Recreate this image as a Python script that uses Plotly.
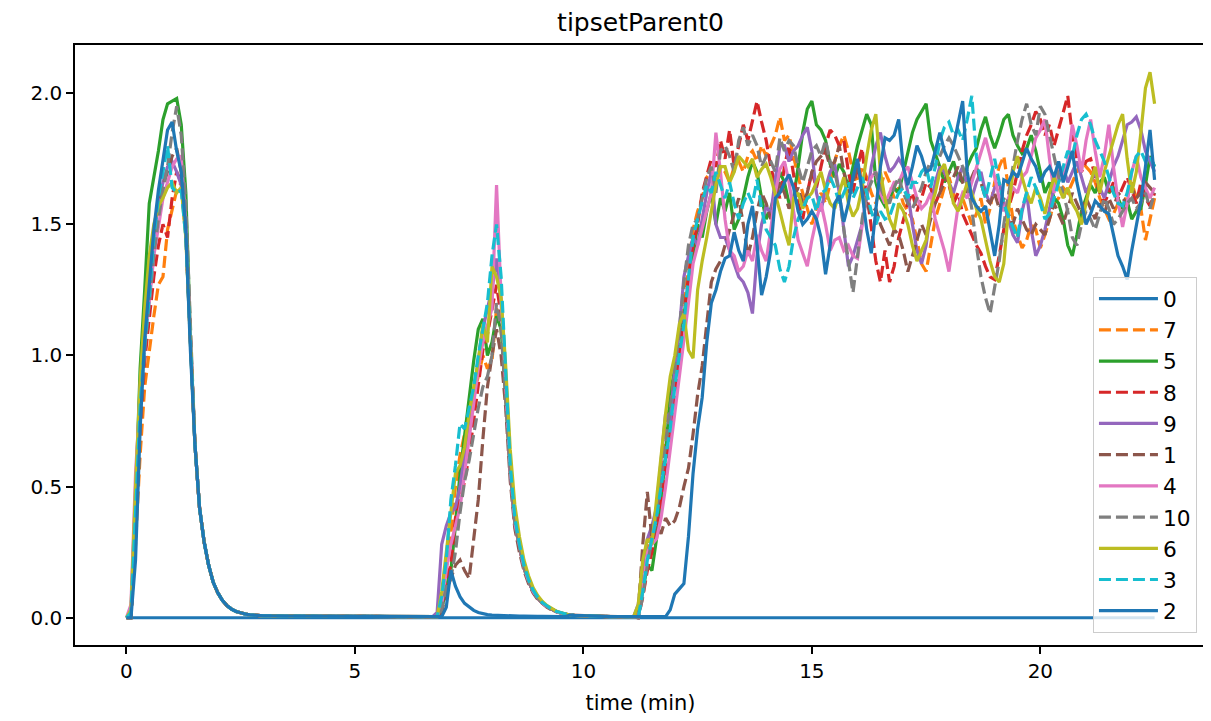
import plotly.graph_objects as go

# ---------------- data ----------------
# shared time axis, one sample every 0.1 min from 0 to 22.5 min
time_min = [round(i * 0.1, 1) for i in range(226)]

series_names = ["0", "7", "5", "8", "9", "1", "4", "10", "6", "3", "2"]
series_colors = ["#1f77b4", "#ff7f0e", "#2ca02c", "#d62728", "#9467bd", "#8c564b",
                 "#e377c2", "#7f7f7f", "#bcbd22", "#17becf", "#1f77b4"]
series_dashed = [False, True, False, True, False, True, False, True, False, True, False]

# shared pieces where all curves overlap
decay_1 = [0.66, 0.42, 0.29, 0.20, 0.135, 0.095, 0.066, 0.046, 0.033, 0.024,
           0.018, 0.014, 0.011, 0.009, 0.008, 0.007]                       # t 1.5 .. 3.0
quiet_1 = [0.007, 0.006, 0.006, 0.006, 0.006, 0.006, 0.006, 0.005, 0.005, 0.005,
           0.005, 0.005, 0.005, 0.005, 0.005, 0.005, 0.005, 0.005, 0.004, 0.004,
           0.004, 0.004, 0.004, 0.004, 0.004, 0.004, 0.004, 0.004, 0.004, 0.004,
           0.004, 0.004, 0.004, 0.004, 0.004, 0.004, 0.004]                # t 3.1 .. 6.7
decay_2 = [0.56, 0.36, 0.27, 0.19, 0.14, 0.10, 0.075, 0.056, 0.043, 0.032,
           0.024, 0.018, 0.013]                                            # t 8.4 .. 9.6
quiet_2 = [0.010, 0.009, 0.008, 0.007, 0.006, 0.006, 0.005, 0.005, 0.005, 0.004,
           0.004, 0.004, 0.004, 0.004, 0.004]                              # t 9.7 .. 11.1

# series "0" stays at zero the whole run
values_0 = [0, 0, 0, 0, 0, 0, 0, 0, 0, 0, 0, 0, 0, 0, 0, 0, 0, 0, 0, 0,
            0, 0, 0, 0, 0, 0, 0, 0, 0, 0, 0, 0, 0, 0, 0, 0, 0, 0, 0, 0,
            0, 0, 0, 0, 0, 0, 0, 0, 0, 0, 0, 0, 0, 0, 0, 0, 0, 0, 0, 0,
            0, 0, 0, 0, 0, 0, 0, 0, 0, 0, 0, 0, 0, 0, 0, 0, 0, 0, 0, 0,
            0, 0, 0, 0, 0, 0, 0, 0, 0, 0, 0, 0, 0, 0, 0, 0, 0, 0, 0, 0,
            0, 0, 0, 0, 0, 0, 0, 0, 0, 0, 0, 0, 0, 0, 0, 0, 0, 0, 0, 0,
            0, 0, 0, 0, 0, 0, 0, 0, 0, 0, 0, 0, 0, 0, 0, 0, 0, 0, 0, 0,
            0, 0, 0, 0, 0, 0, 0, 0, 0, 0, 0, 0, 0, 0, 0, 0, 0, 0, 0, 0,
            0, 0, 0, 0, 0, 0, 0, 0, 0, 0, 0, 0, 0, 0, 0, 0, 0, 0, 0, 0,
            0, 0, 0, 0, 0, 0, 0, 0, 0, 0, 0, 0, 0, 0, 0, 0, 0, 0, 0, 0,
            0, 0, 0, 0, 0, 0, 0, 0, 0, 0, 0, 0, 0, 0, 0, 0, 0, 0, 0, 0,
            0, 0, 0, 0, 0, 0]

# --- first burst, t 0.0 .. 1.4
rise1_7 = [0, 0.0, 0.28, 0.62, 0.88, 1.02, 1.15, 1.27, 1.30, 1.48, 1.56, 1.63, 1.66, 1.46, 1.06]
rise1_5 = [0, 0.0, 0.45, 0.95, 1.25, 1.58, 1.68, 1.78, 1.90, 1.96, 1.97, 1.98, 1.88, 1.62, 1.08]
rise1_8 = [0, 0.0, 0.35, 0.72, 0.98, 1.15, 1.30, 1.42, 1.50, 1.45, 1.60, 1.70, 1.66, 1.46, 1.06]
rise1_9 = [0, 0.02, 0.48, 0.88, 1.12, 1.30, 1.45, 1.58, 1.66, 1.72, 1.74, 1.70, 1.65, 1.47, 1.05]
rise1_1 = [0, 0.0, 0.40, 0.80, 1.05, 1.22, 1.40, 1.55, 1.65, 1.70, 1.76, 1.79, 1.70, 1.48, 1.06]
rise1_4 = [0, 0.05, 0.55, 0.85, 1.05, 1.20, 1.38, 1.50, 1.60, 1.66, 1.72, 1.75, 1.76, 1.50, 1.08]
rise1_10 = [0, 0.0, 0.35, 0.75, 1.02, 1.20, 1.38, 1.52, 1.63, 1.72, 1.85, 1.95, 1.84, 1.58, 1.10]
rise1_6 = [0, 0.03, 0.50, 0.90, 1.18, 1.38, 1.50, 1.57, 1.60, 1.64, 1.66, 1.62, 1.64, 1.45, 1.05]
rise1_3 = [0, 0.02, 0.40, 0.80, 1.05, 1.22, 1.45, 1.60, 1.70, 1.80, 1.64, 1.62, 1.63, 1.45, 1.05]
rise1_2 = [0, 0.0, 0.22, 0.72, 1.06, 1.27, 1.48, 1.63, 1.75, 1.86, 1.89, 1.78, 1.70, 1.48, 1.02]

# --- second burst, t 6.8 .. 8.3 (then decay)
peak2_7 = [0.004, 0.05, 0.20, 0.32, 0.50, 0.62, 0.70, 0.75, 0.85, 0.92, 1.00, 0.95, 0.98, 1.18, 1.10, 0.85]
peak2_5 = [0.004, 0.03, 0.12, 0.18, 0.35, 0.55, 0.70, 0.85, 0.98, 1.10, 1.14, 1.00, 1.05, 1.15, 1.10, 0.86]
peak2_8 = [0.004, 0.04, 0.15, 0.20, 0.38, 0.45, 0.52, 0.62, 0.75, 0.90, 1.02, 1.08, 1.18, 1.27, 1.15, 0.88]
peak2_9 = [0.02, 0.28, 0.35, 0.40, 0.42, 0.50, 0.62, 0.74, 0.86, 0.98, 1.10, 1.18, 1.25, 1.37, 1.20, 0.90]
peak2_1 = [0.004, 0.02, 0.10, 0.15, 0.20, 0.22, 0.18, 0.15, 0.30, 0.45, 0.68, 0.88, 1.00, 1.10, 1.00, 0.80,
           0.52, 0.34, 0.25, 0.18, 0.13, 0.095, 0.07, 0.053, 0.04, 0.03, 0.023, 0.017, 0.012]
peak2_4 = [0.004, 0.05, 0.18, 0.28, 0.35, 0.42, 0.55, 0.68, 0.82, 0.95, 1.05, 1.12, 1.18, 1.65, 1.22, 0.88]
peak2_10 = [0.004, 0.03, 0.12, 0.15, 0.25, 0.40, 0.52, 0.60, 0.70, 0.80, 0.88, 0.92, 1.00, 1.20, 1.10, 0.85]
peak2_6 = [0.004, 0.10, 0.25, 0.38, 0.55, 0.58, 0.65, 0.78, 0.88, 0.98, 1.12, 1.05, 1.34, 1.30, 1.22, 0.96,
           0.64, 0.43, 0.31, 0.22, 0.16, 0.115, 0.085, 0.063, 0.047, 0.035, 0.026, 0.020, 0.015]
peak2_3 = [0.004, 0.08, 0.22, 0.45, 0.58, 0.74, 0.72, 0.80, 0.88, 1.00, 1.10, 1.20, 1.38, 1.50, 1.30, 0.92,
           0.58, 0.38, 0.28, 0.20, 0.145, 0.105, 0.078, 0.058, 0.044, 0.033, 0.025, 0.019, 0.014]
peak2_2 = [0.004, 0.004, 0.04, 0.18, 0.12, 0.08, 0.055, 0.04, 0.028, 0.02, 0.015, 0.012, 0.010, 0.009, 0.008,
           0.007, 0.007, 0.006, 0.006, 0.006, 0.005, 0.005, 0.005, 0.005, 0.004, 0.004, 0.004, 0.004, 0.004]

# --- third rise, t 11.2 .. 13.0
rise3_7 = [0.02, 0.15, 0.25, 0.32, 0.40, 0.55, 0.70, 0.82, 0.90, 1.05, 1.20, 1.35, 1.48, 1.55, 1.60, 1.68, 1.70, 1.66, 1.72]
rise3_5 = [0.0, 0.10, 0.20, 0.18, 0.30, 0.45, 0.62, 0.85, 0.95, 1.10, 1.15, 1.28, 1.38, 1.50, 1.45, 1.55, 1.62, 1.50, 1.60]
rise3_8 = [0.0, 0.08, 0.18, 0.25, 0.35, 0.45, 0.58, 0.70, 0.85, 1.00, 1.15, 1.30, 1.42, 1.50, 1.62, 1.68, 1.75, 1.72, 1.82]
rise3_9 = [0.05, 0.20, 0.30, 0.35, 0.42, 0.60, 0.78, 0.75, 0.95, 1.10, 1.30, 1.38, 1.45, 1.42, 1.52, 1.62, 1.70, 1.50, 1.45]
rise3_1 = [0.02, 0.28, 0.48, 0.30, 0.35, 0.32, 0.38, 0.35, 0.37, 0.42, 0.50, 0.57, 0.70, 0.85, 0.96, 1.12, 1.28, 1.33, 1.36]
rise3_4 = [0.0, 0.10, 0.25, 0.28, 0.30, 0.38, 0.50, 0.65, 0.78, 0.92, 1.05, 1.20, 1.35, 1.42, 1.48, 1.55, 1.62, 1.85, 1.70]
rise3_10 = [0.0, 0.08, 0.20, 0.30, 0.40, 0.52, 0.65, 0.80, 0.95, 1.10, 1.28, 1.42, 1.50, 1.52, 1.60, 1.68, 1.72, 1.62, 1.78]
rise3_6 = [0.05, 0.22, 0.30, 0.28, 0.45, 0.62, 0.78, 0.92, 1.00, 1.12, 1.16, 1.02, 0.99, 1.25, 1.36, 1.45, 1.55, 1.65, 1.72]
rise3_3 = [0.0, 0.10, 0.22, 0.30, 0.38, 0.50, 0.62, 0.72, 0.88, 1.00, 1.12, 1.30, 1.45, 1.52, 1.58, 1.65, 1.62, 1.70, 1.65]
rise3_2 = [0.004, 0.004, 0.004, 0.004, 0.004, 0.004, 0.004, 0.03, 0.09, 0.11, 0.13, 0.31, 0.55, 0.72, 0.84, 1.05, 1.20, 1.25, 1.32]

# --- noisy plateau, t 13.1 .. 22.5
plateau_7 = [1.70, 1.66, 1.72, 1.74, 1.70, 1.76, 1.78, 1.74, 1.80, 1.76,
             1.80, 1.84, 1.91, 1.82, 1.84, 1.76, 1.68, 1.62, 1.56, 1.50,
             1.56, 1.62, 1.58, 1.66, 1.74, 1.80, 1.84, 1.78, 1.70, 1.66,
             1.72, 1.68, 1.62, 1.58, 1.64, 1.70, 1.66, 1.60, 1.64, 1.58,
             1.55, 1.52, 1.44, 1.35, 1.32, 1.42, 1.52, 1.58, 1.64, 1.68,
             1.62, 1.56, 1.60, 1.55, 1.50, 1.54, 1.60, 1.50, 1.56, 1.66,
             1.72, 1.76, 1.64, 1.52, 1.46, 1.41, 1.44, 1.50, 1.48, 1.41,
             1.46, 1.52, 1.58, 1.60, 1.64, 1.62, 1.66, 1.70, 1.74, 1.72,
             1.70, 1.66, 1.60, 1.56, 1.52, 1.54, 1.58, 1.56, 1.62, 1.66,
             1.60, 1.56, 1.44, 1.52, 1.60]
plateau_5 = [1.55, 1.62, 1.48, 1.52, 1.60, 1.68, 1.74, 1.70, 1.60, 1.52,
             1.56, 1.62, 1.70, 1.66, 1.58, 1.60, 1.72, 1.85, 1.94, 1.97,
             1.88, 1.86, 1.82, 1.73, 1.68, 1.73, 1.70, 1.64, 1.72, 1.80,
             1.86, 1.92, 1.88, 1.66, 1.60, 1.57, 1.60, 1.64, 1.62, 1.70,
             1.78, 1.85, 1.90, 1.93, 1.96, 1.82, 1.77, 1.72, 1.66, 1.70,
             1.74, 1.68, 1.66, 1.72, 1.76, 1.79, 1.86, 1.91, 1.84, 1.79,
             1.84, 1.90, 1.92, 1.84, 1.80, 1.77, 1.79, 1.84, 1.78, 1.70,
             1.62, 1.66, 1.60, 1.58, 1.52, 1.42, 1.38, 1.46, 1.55, 1.60,
             1.65, 1.62, 1.66, 1.68, 1.62, 1.64, 1.60, 1.56, 1.59, 1.52,
             1.55, 1.56, 1.65, 1.76, 1.72]
plateau_8 = [1.75, 1.86, 1.72, 1.80, 1.88, 1.82, 1.90, 1.97, 1.89, 1.82,
             1.72, 1.65, 1.60, 1.72, 1.80, 1.68, 1.58, 1.52, 1.62, 1.70,
             1.64, 1.72, 1.80, 1.86, 1.84, 1.80, 1.82, 1.70, 1.62, 1.72,
             1.79, 1.62, 1.48, 1.36, 1.28, 1.40, 1.28, 1.34, 1.45, 1.52,
             1.58, 1.62, 1.55, 1.60, 1.66, 1.64, 1.58, 1.62, 1.70, 1.65,
             1.58, 1.62, 1.54, 1.50, 1.46, 1.42, 1.39, 1.34, 1.30, 1.29,
             1.38, 1.48, 1.56, 1.62, 1.70, 1.78, 1.84, 1.88, 1.93, 1.90,
             1.84, 1.88, 1.80, 1.86, 1.92, 1.99, 1.84, 1.75, 1.70, 1.74,
             1.75, 1.69, 1.62, 1.58, 1.62, 1.66, 1.60, 1.64, 1.68, 1.63,
             1.58, 1.66, 1.60, 1.57, 1.62]
plateau_9 = [1.45, 1.40, 1.35, 1.30, 1.28, 1.24, 1.16, 1.38, 1.50, 1.57,
             1.54, 1.66, 1.80, 1.80, 1.74, 1.78, 1.80, 1.84, 1.87, 1.78,
             1.62, 1.55, 1.64, 1.70, 1.73, 1.62, 1.48, 1.34, 1.38, 1.44,
             1.50, 1.60, 1.72, 1.80, 1.85, 1.76, 1.70, 1.72, 1.75, 1.72,
             1.62, 1.50, 1.40, 1.35, 1.42, 1.55, 1.66, 1.72, 1.70, 1.66,
             1.62, 1.68, 1.72, 1.65, 1.60, 1.66, 1.70, 1.62, 1.58, 1.64,
             1.66, 1.58, 1.52, 1.46, 1.43, 1.55, 1.62, 1.48, 1.38, 1.42,
             1.48, 1.56, 1.64, 1.68, 1.72, 1.66, 1.70, 1.74, 1.68, 1.62,
             1.66, 1.70, 1.64, 1.60, 1.66, 1.72, 1.76, 1.82, 1.88, 1.89,
             1.91, 1.86, 1.78, 1.74, 1.70]
plateau_1 = [1.42, 1.48, 1.55, 1.60, 1.50, 1.38, 1.45, 1.55, 1.62, 1.58,
             1.52, 1.60, 1.66, 1.62, 1.56, 1.60, 1.64, 1.58, 1.62, 1.70,
             1.74, 1.76, 1.78, 1.72, 1.74, 1.80, 1.70, 1.62, 1.66, 1.72,
             1.66, 1.58, 1.54, 1.56, 1.50, 1.46, 1.42, 1.48, 1.46, 1.40,
             1.32, 1.38, 1.44, 1.50, 1.46, 1.52, 1.58, 1.62, 1.66, 1.70,
             1.68, 1.72, 1.66, 1.62, 1.68, 1.72, 1.66, 1.60, 1.58, 1.62,
             1.56, 1.60, 1.54, 1.50, 1.56, 1.52, 1.48, 1.46, 1.50, 1.48,
             1.46, 1.52, 1.58, 1.54, 1.50, 1.56, 1.62, 1.58, 1.54, 1.60,
             1.56, 1.52, 1.58, 1.54, 1.60, 1.56, 1.62, 1.60, 1.58, 1.64,
             1.60, 1.62, 1.66, 1.64, 1.62]
plateau_4 = [1.52, 1.40, 1.38, 1.32, 1.34, 1.40, 1.36, 1.46, 1.40, 1.36,
             1.48, 1.62, 1.71, 1.74, 1.66, 1.55, 1.44, 1.39, 1.34, 1.44,
             1.52, 1.58, 1.50, 1.40, 1.44, 1.45, 1.40, 1.42, 1.38, 1.37,
             1.50, 1.62, 1.68, 1.70, 1.62, 1.58, 1.62, 1.66, 1.66, 1.70,
             1.72, 1.66, 1.60, 1.56, 1.58, 1.62, 1.52, 1.46, 1.40, 1.32,
             1.45, 1.57, 1.62, 1.60, 1.66, 1.72, 1.78, 1.83, 1.76, 1.68,
             1.60, 1.55, 1.60, 1.64, 1.62, 1.68, 1.70, 1.76, 1.83, 1.86,
             1.90, 1.75, 1.62, 1.72, 1.68, 1.74, 1.88, 1.80, 1.70, 1.82,
             1.90, 1.78, 1.68, 1.76, 1.88, 1.72, 1.59, 1.49, 1.58, 1.70,
             1.76, 1.68, 1.64, 1.60, 1.64]
plateau_10 = [1.80, 1.76, 1.70, 1.82, 1.87, 1.80, 1.84, 1.80, 1.72, 1.76,
              1.74, 1.70, 1.83, 1.78, 1.82, 1.80, 1.72, 1.66, 1.72, 1.78,
              1.80, 1.76, 1.82, 1.74, 1.70, 1.62, 1.48, 1.36, 1.24, 1.38,
              1.52, 1.62, 1.66, 1.70, 1.64, 1.60, 1.58, 1.64, 1.68, 1.62,
              1.58, 1.56, 1.60, 1.64, 1.70, 1.74, 1.72, 1.76, 1.80, 1.83,
              1.80, 1.76, 1.72, 1.66, 1.56, 1.42, 1.30, 1.22, 1.16, 1.26,
              1.36, 1.50, 1.62, 1.72, 1.82, 1.90, 1.96, 1.88, 1.84, 1.95,
              1.92, 1.84, 1.76, 1.68, 1.62, 1.55, 1.45, 1.42, 1.50, 1.55,
              1.52, 1.48, 1.54, 1.60, 1.56, 1.50, 1.52, 1.55, 1.58, 1.60,
              1.56, 1.58, 1.62, 1.56, 1.62]
plateau_6 = [1.72, 1.66, 1.70, 1.76, 1.74, 1.72, 1.75, 1.68, 1.71, 1.73,
             1.68, 1.62, 1.55, 1.48, 1.42, 1.60, 1.62, 1.56, 1.60, 1.62,
             1.66, 1.70, 1.63, 1.58, 1.56, 1.62, 1.68, 1.58, 1.53, 1.56,
             1.64, 1.76, 1.86, 1.92, 1.70, 1.60, 1.52, 1.48, 1.58, 1.55,
             1.50, 1.42, 1.36, 1.40, 1.44, 1.56, 1.62, 1.70, 1.73, 1.66,
             1.58, 1.55, 1.60, 1.66, 1.62, 1.56, 1.52, 1.44, 1.36, 1.30,
             1.28, 1.35, 1.55, 1.70, 1.76, 1.68, 1.62, 1.58, 1.64, 1.60,
             1.54, 1.62, 1.68, 1.64, 1.60, 1.64, 1.58, 1.55, 1.50, 1.58,
             1.66, 1.72, 1.62, 1.70, 1.76, 1.82, 1.88, 1.92, 1.75, 1.62,
             1.70, 1.85, 2.02, 2.08, 1.96]
plateau_3 = [1.60, 1.66, 1.58, 1.52, 1.58, 1.62, 1.58, 1.67, 1.56, 1.48,
             1.45, 1.42, 1.33, 1.28, 1.34, 1.45, 1.52, 1.56, 1.60, 1.61,
             1.55, 1.62, 1.63, 1.68, 1.64, 1.58, 1.62, 1.66, 1.60, 1.64,
             1.68, 1.62, 1.55, 1.50, 1.55, 1.52, 1.53, 1.58, 1.62, 1.64,
             1.60, 1.66, 1.66, 1.70, 1.72, 1.64, 1.72, 1.82, 1.87, 1.89,
             1.84, 1.86, 1.82, 1.90, 1.99, 1.76, 1.66, 1.60, 1.68, 1.75,
             1.66, 1.58, 1.53, 1.49, 1.45, 1.56, 1.62, 1.68, 1.64, 1.58,
             1.52, 1.54, 1.60, 1.66, 1.72, 1.78, 1.76, 1.84, 1.90, 1.92,
             1.88, 1.82, 1.78, 1.74, 1.68, 1.62, 1.58, 1.57, 1.62, 1.70,
             1.76, 1.78, 1.74, 1.76, 1.72]
plateau_2 = [1.37, 1.38, 1.47, 1.40, 1.36, 1.50, 1.57, 1.42, 1.23, 1.30,
             1.40, 1.60, 1.62, 1.66, 1.69, 1.64, 1.55, 1.50, 1.52, 1.55,
             1.52, 1.45, 1.31, 1.42, 1.58, 1.61, 1.51, 1.58, 1.68, 1.75,
             1.62, 1.48, 1.39, 1.55, 1.72, 1.83, 1.82, 1.84, 1.90, 1.72,
             1.65, 1.72, 1.80, 1.76, 1.70, 1.71, 1.78, 1.85, 1.78, 1.74,
             1.80, 1.88, 1.97, 1.70, 1.60, 1.57, 1.55, 1.57, 1.48, 1.38,
             1.50, 1.67, 1.66, 1.70, 1.68, 1.74, 1.79, 1.75, 1.72, 1.66,
             1.70, 1.72, 1.68, 1.74, 1.66, 1.72, 1.78, 1.66, 1.58, 1.50,
             1.54, 1.59, 1.57, 1.55, 1.54, 1.46, 1.38, 1.34, 1.29, 1.40,
             1.50, 1.59, 1.72, 1.86, 1.67]

values_7 = rise1_7 + decay_1 + quiet_1 + peak2_7 + decay_2 + quiet_2 + rise3_7 + plateau_7
values_5 = rise1_5 + decay_1 + quiet_1 + peak2_5 + decay_2 + quiet_2 + rise3_5 + plateau_5
values_8 = rise1_8 + decay_1 + quiet_1 + peak2_8 + decay_2 + quiet_2 + rise3_8 + plateau_8
values_9 = rise1_9 + decay_1 + quiet_1 + peak2_9 + decay_2 + quiet_2 + rise3_9 + plateau_9
values_1 = rise1_1 + decay_1 + quiet_1 + peak2_1 + quiet_2 + rise3_1 + plateau_1
values_4 = rise1_4 + decay_1 + quiet_1 + peak2_4 + decay_2 + quiet_2 + rise3_4 + plateau_4
values_10 = rise1_10 + decay_1 + quiet_1 + peak2_10 + decay_2 + quiet_2 + rise3_10 + plateau_10
values_6 = rise1_6 + decay_1 + quiet_1 + peak2_6 + quiet_2 + rise3_6 + plateau_6
values_3 = rise1_3 + decay_1 + quiet_1 + peak2_3 + quiet_2 + rise3_3 + plateau_3
values_2 = rise1_2 + decay_1 + quiet_1 + peak2_2 + quiet_2 + rise3_2 + plateau_2

series_values = [values_0, values_7, values_5, values_8, values_9, values_1,
                 values_4, values_10, values_6, values_3, values_2]

x_ticks = [0, 5, 10, 15, 20]
y_ticks = [0.0, 0.5, 1.0, 1.5, 2.0]

# ---------------- figure ----------------
# the page body keeps its default 8px margin, so the figure is made 8px smaller
FONT = "DejaVu Sans"
fig = go.Figure()
for name, vals, col, dashed in zip(series_names, series_values, series_colors, series_dashed):
    fig.add_trace(go.Scatter(
        x=time_min, y=vals, name=name, mode="lines",
        line=dict(color=col, width=3.2, dash="12px,5px" if dashed else "solid"),
    ))

axis_common = dict(
    showline=True, linecolor="black", linewidth=1.5, mirror=True,
    ticks="outside", ticklen=7, tickwidth=1.5, tickcolor="black",
    showgrid=False, zeroline=False,
    tickfont=dict(family=FONT, size=20, color="black"),
)

fig.update_layout(
    width=1203, height=713, autosize=False,
    margin=dict(l=67, r=3, t=37, b=76),
    paper_bgcolor="white", plot_bgcolor="white",
    font=dict(family=FONT, color="black"),
    title=dict(text="tipsetParent0", x=0.5, xref="paper", xanchor="center",
               y=0.980, yref="container", yanchor="middle",
               font=dict(family=FONT, size=25, color="black")),
    xaxis=dict(range=[-1.125, 23.625], tickvals=x_ticks,
               ticktext=[str(v) for v in x_ticks],
               title=dict(text="time (min)", standoff=14,
                          font=dict(family=FONT, size=21, color="black")),
               **axis_common),
    yaxis=dict(range=[-0.104, 2.184], tickvals=y_ticks,
               ticktext=["%.1f" % v for v in y_ticks],
               **axis_common),
    legend=dict(x=0.992, xanchor="right", y=0.02, yanchor="bottom",
                bgcolor="rgba(255,255,255,0.8)", bordercolor="#cccccc", borderwidth=1,
                font=dict(family=FONT, size=21.7, color="black"),
                tracegroupgap=0, itemwidth=59),
    showlegend=True,
)

fig.write_html("out.html")
